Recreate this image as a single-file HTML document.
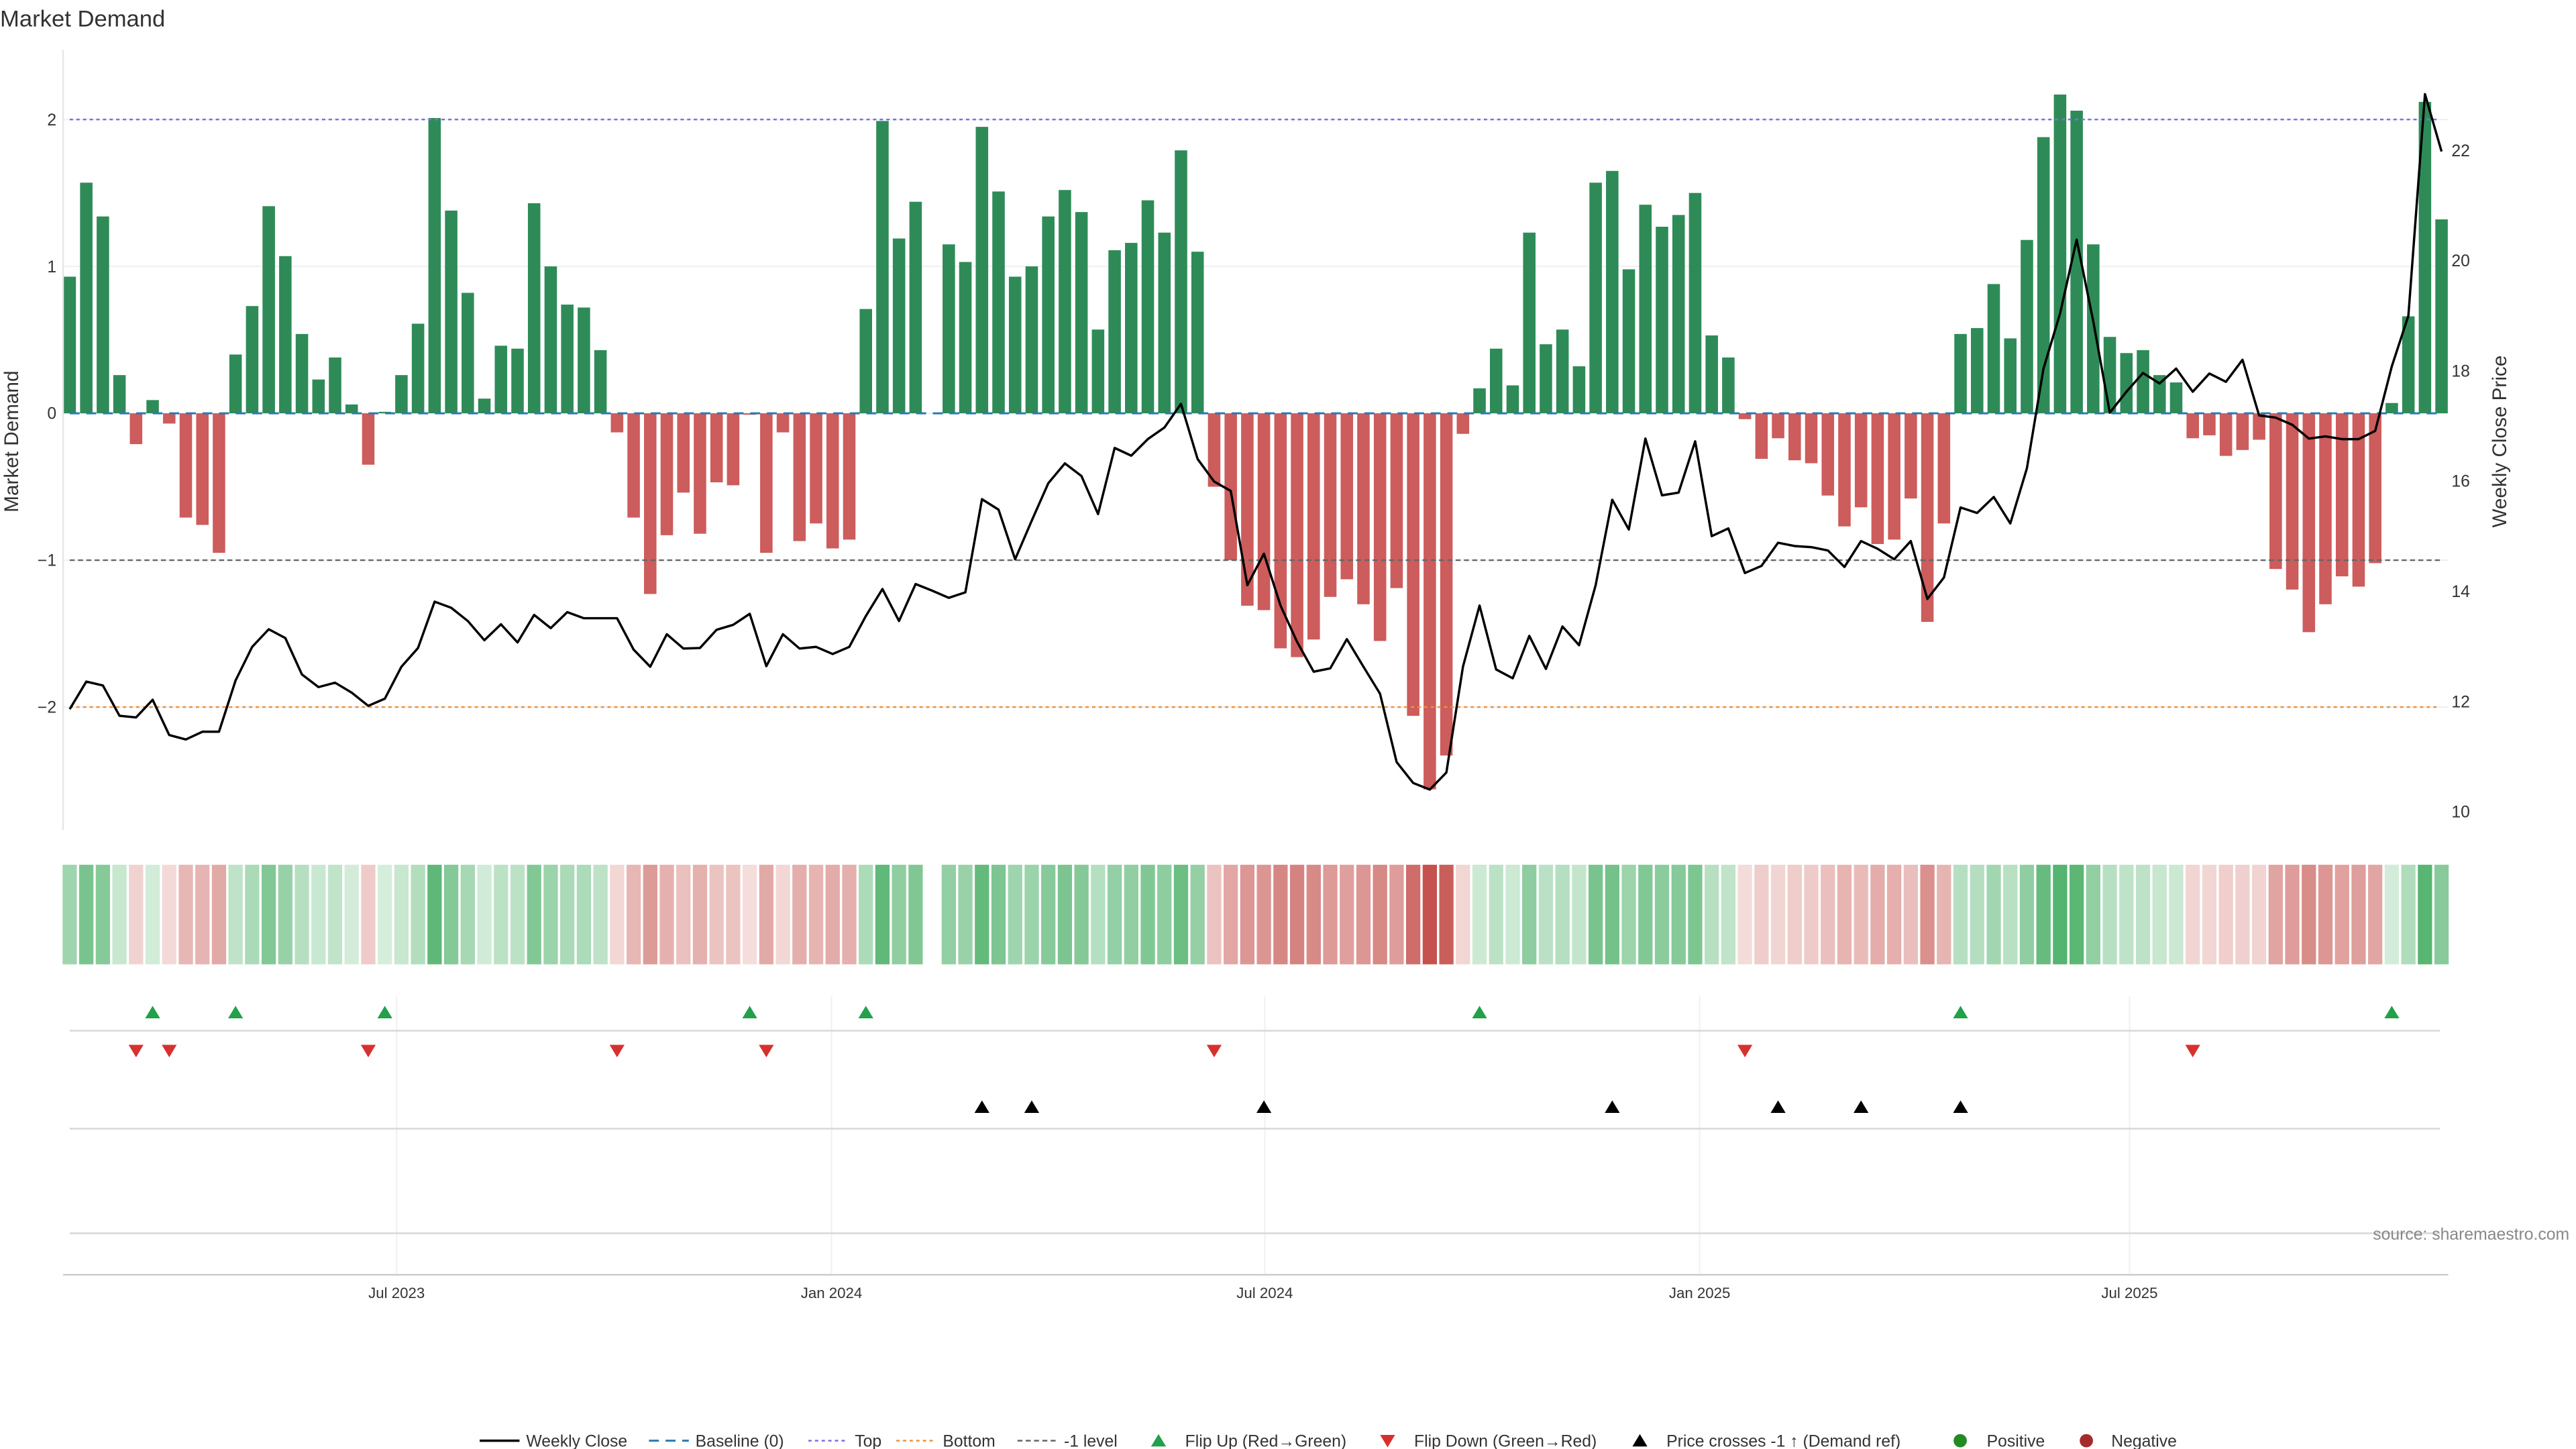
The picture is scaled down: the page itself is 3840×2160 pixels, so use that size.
<!DOCTYPE html>
<html><head><meta charset="utf-8"><style>
html,body{margin:0;padding:0;background:#fff;}
svg{display:block;font-family:"Liberation Sans",sans-serif;}
</style></head><body>
<svg id="chart" width="3840" height="2160" viewBox="0 0 1552 873" xmlns="http://www.w3.org/2000/svg">
<text x="0" y="16" font-size="14" fill="#333">Market Demand</text>
<g id="grid"></g>
<g id="bars"></g>
<g id="refs"></g>
<g id="price"></g>
<g id="heat"></g>
<g id="marks"></g>
<g id="axes"></g>
<text transform="translate(11,266) rotate(-90)" text-anchor="middle" font-size="12" fill="#333">Market Demand</text>
<text transform="translate(1510,266) rotate(-90)" text-anchor="middle" font-size="12" fill="#333">Weekly Close Price</text>
<text x="1548" y="747" text-anchor="end" font-size="10" fill="#888">source: sharemaestro.com</text>
<g id="legend" font-size="10" fill="#333"></g>
</svg>
<script>
const demand=[0.93,1.57,1.34,0.26,-0.21,0.09,-0.07,-0.71,-0.76,-0.95,0.40,0.73,1.41,1.07,0.54,0.23,0.38,0.06,-0.35,0.01,0.26,0.61,2.01,1.38,0.82,0.10,0.46,0.44,1.43,1.0,0.74,0.72,0.43,-0.13,-0.71,-1.23,-0.83,
-0.54,-0.82,-0.47,-0.49,-0.01,-0.95,-0.13,-0.87,-0.75,-0.92,-0.86,0.71,1.99,1.19,1.44,0,1.15,1.03,1.95,1.51,0.93,1.0,1.34,1.52,1.37,0.57,1.11,1.16,1.45,1.23,1.79,1.10,-0.50,-1.0,-1.31,
-1.34,-1.60,-1.66,-1.54,-1.25,-1.13,-1.30,-1.55,-1.19,-2.06,-2.56,-2.33,-0.14,0.17,0.44,0.19,1.23,0.47,0.57,0.32,1.57,1.65,0.98,1.42,1.27,1.35,1.50,0.53,0.38,-0.04,-0.31,-0.17,-0.32,-0.34,-0.56,-0.77,
-0.64,-0.89,-0.86,-0.58,-1.42,-0.75,0.54,0.58,0.88,0.51,1.18,1.88,2.17,2.06,1.15,0.52,0.41,0.43,0.26,0.21,-0.17,-0.15,-0.29,-0.25,-0.18,-1.06,-1.20,-1.49,-1.30,-1.11,-1.18,-1.02,0.07,0.66,2.12,1.32];
const price=[11.86,12.36,12.29,11.74,11.71,12.03,11.39,11.31,11.45,11.45,12.38,12.99,13.31,13.15,12.49,12.26,12.34,12.16,11.92,12.05,12.63,12.97,13.81,13.70,13.46,13.11,13.40,13.07,13.57,13.33,13.62,13.51,13.51,13.51,12.94,12.63,13.22,
12.96,12.97,13.30,13.39,13.59,12.64,13.22,12.96,12.99,12.86,12.99,13.55,14.04,13.46,14.13,14.01,13.88,13.98,15.67,15.48,14.58,15.28,15.96,16.32,16.09,15.40,16.60,16.46,16.76,16.97,17.40,16.40,15.99,15.82,14.11,
14.68,13.74,13.08,12.54,12.60,13.13,12.63,12.14,10.90,10.52,10.40,10.71,12.63,13.74,12.58,12.42,13.19,12.59,13.36,13.02,14.11,15.66,15.12,16.77,15.74,15.79,16.72,15.0,15.14,14.33,14.46,14.88,14.82,14.80,14.74,14.44,
14.91,14.77,14.58,14.91,13.86,14.25,15.52,15.42,15.71,15.23,16.23,18.04,19.04,20.38,18.90,17.24,17.62,17.96,17.77,18.04,17.62,17.95,17.80,18.20,17.19,17.15,17.02,16.77,16.81,16.76,16.76,16.91,18.08,19.0,23.02,21.98];
const flipUpIdx=[5,10,19,41,48,85,114,140];
const flipDownIdx=[4,6,18,33,42,69,101,128];
const crossIdx=[55,58,72,93,103,108,114];
const dateTickLabels=["Jul 2023","Jan 2024","Jul 2024","Jan 2025","Jul 2025"];
const dateTickPos=[19.71,45.93,72.05,98.27,124.19];
const demandTicks=[2,1,0,-1,-2];
const demandTickLabels=["2","1","0","\u22121","\u22122"];
const priceTicks=[22,20,18,16,14,12,10];

const NS="http://www.w3.org/2000/svg";
function mk(parent,tag,attrs){const e=document.createElementNS(NS,tag);for(const k in attrs)e.setAttribute(k,attrs[k]);parent.appendChild(e);return e;}
const X0=42,DX=9.993;
const x=i=>X0+i*DX;
const yD=v=>249-v*88.5;
const yP=p=>489-(p-10)*33.2;
const L=38,R=1475;
const g=id=>document.getElementById(id);

demandTicks.forEach(t=>{const l=mk(g('grid'),'line',{x1:L,x2:R,y1:yD(t),y2:yD(t),stroke:'#eef0f3','stroke-width':0.8});

});
demand.forEach((v,i)=>{if(v===0)return;const y0=yD(0),y1=yD(v);
const r=mk(g('bars'),'rect',{x:x(i)-3.75,width:7.5,y:Math.min(y0,y1),height:Math.abs(y1-y0),fill:v>0?'#2e8b57':'#cd5c5c'});

});
[[2,'#7b6fe0','2,2'],[-1,'#666','3,2'],[-2,'#f0903a','2,2']].forEach(a=>{const l=mk(g('refs'),'line',{x1:42,x2:1470,y1:yD(a[0]),y2:yD(a[0]),stroke:a[1],'stroke-width':1,'stroke-dasharray':a[2]});

});
const bl=mk(g('refs'),'line',{x1:42,x2:1470,y1:yD(0),y2:yD(0),stroke:'#2a7ab0','stroke-width':1.2,'stroke-dasharray':'6,4'});


const pl=mk(g('price'),'polyline',{points:price.map((p,i)=>x(i)+','+yP(p)).join(' '),fill:'none',stroke:'#000','stroke-width':1.4,'stroke-linejoin':'round'});


function mix(a,b,t){return 'rgb('+a.map((c,k)=>Math.round(c+(b[k]-c)*t)).join(',')+')';}
demand.forEach((v,i)=>{if(v===0)return;const t=Math.min(1,Math.abs(v)/2.6);
const c=v>0?mix([214,238,220],[60,168,90],t):mix([244,222,220],[196,80,76],t);
const r=mk(g('heat'),'rect',{x:x(i)-4.3,width:8.6,y:521,height:60,fill:c});

});
dateTickPos.forEach(d=>{const l=mk(g('marks'),'line',{x1:x(d),x2:x(d),y1:600,y2:768,stroke:'#f0f0f0','stroke-width':0.8});

});
[621,680,743].forEach(yy=>{const l=mk(g('marks'),'line',{x1:42,x2:1470,y1:yy,y2:yy,stroke:'#d8d8d8','stroke-width':1});

});
function tri(i,y,up,col,name){const cx=x(i);const pts=up?[cx-4.5,y+3.5,cx+4.5,y+3.5,cx,y-4]:[cx-4.5,y-3.5,cx+4.5,y-3.5,cx,y+4];
const p=mk(g('marks'),'polygon',{points:pts.join(','),fill:col});

}
flipUpIdx.forEach(i=>tri(i,610,true,'#22a04a','flip-up-marker'));
flipDownIdx.forEach(i=>tri(i,633,false,'#d8302e','flip-down-marker'));
crossIdx.forEach(i=>tri(i,667,true,'#000','price-cross-marker'));
const ax=g('axes');
const a1=mk(ax,'line',{x1:38,x2:38,y1:30,y2:500,stroke:'#e6e6e6','stroke-width':1});


const a2=mk(ax,'line',{x1:38,x2:R,y1:768,y2:768,stroke:'#ccc','stroke-width':1});


demandTicks.forEach((t,k)=>{const e=mk(ax,'text',{x:34,y:yD(t)+3.5,'text-anchor':'end','font-size':10,fill:'#333'});e.textContent=demandTickLabels[k];

});
priceTicks.forEach(t=>{const e=mk(ax,'text',{x:1477,y:yP(t)+3.5,'font-size':10,fill:'#333'});e.textContent=t;

});
dateTickLabels.forEach((s,k)=>{const e=mk(ax,'text',{x:x(dateTickPos[k]),y:782,'text-anchor':'middle','font-size':9,fill:'#333'});e.textContent=s;

});
const lg=g('legend');const LY=868;
function ltext(xx,s){const e=mk(lg,'text',{x:xx,y:LY+3.5,'font-size':10,fill:'#333'});e.textContent=s;

}
function lline(xx,col,dash,w){const l=mk(lg,'line',{x1:xx,x2:xx+24,y1:LY,y2:LY,stroke:col,'stroke-width':w,'stroke-dasharray':dash});

}
lline(289,'#000','none',1.4);ltext(317,'Weekly Close');
lline(391,'#2a7ab0','6,4',1.2);ltext(419,'Baseline (0)');
lline(487,'#7b6fe0','2,2',1);ltext(515,'Top');
lline(540,'#f0903a','2,2',1);ltext(568,'Bottom');
lline(613,'#666','3,2',1);ltext(641,'-1 level');
function ltri(xx,up,col){const pts=up?[xx-4.5,LY+3.5,xx+4.5,LY+3.5,xx,LY-4]:[xx-4.5,LY-3.5,xx+4.5,LY-3.5,xx,LY+4];
const p=mk(lg,'polygon',{points:pts.join(','),fill:col});

}
ltri(698,true,'#22a04a');ltext(714,'Flip Up (Red\u2192Green)');
ltri(836,false,'#d8302e');ltext(852,'Flip Down (Green\u2192Red)');
ltri(988,true,'#000');ltext(1004,'Price crosses -1 \u2191 (Demand ref)');
function ldot(xx,col){const c=mk(lg,'circle',{cx:xx,cy:LY,r:4,fill:col});

}
ldot(1181,'#228b22');ltext(1197,'Positive');
ldot(1257,'#a52a2a');ltext(1272,'Negative');
</script>
</body></html>
